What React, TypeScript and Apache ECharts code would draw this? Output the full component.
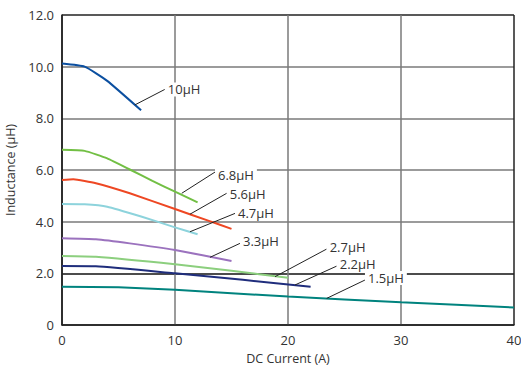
import React, { useEffect, useRef } from "react";
import * as echarts from "echarts";

// Inductance vs DC current curves (x = DC current in A, y = inductance in µH)
const x10 = [0, 2, 4, 7];
const y10 = [10.12, 10.0, 9.45, 8.31];
const x68 = [0, 2, 4, 6, 8, 10, 12];
const y68 = [6.78, 6.74, 6.45, 6.02, 5.58, 5.16, 4.75];
const x56 = [0, 1, 3, 6, 10, 13, 15];
const y56 = [5.61, 5.64, 5.49, 5.1, 4.49, 4.03, 3.72];
const x47 = [0, 2, 4, 7, 10, 12];
const y47 = [4.68, 4.67, 4.58, 4.2, 3.78, 3.51];
const x33 = [0, 3, 6, 10, 15];
const y33 = [3.36, 3.32, 3.16, 2.9, 2.48];
const x27 = [0, 3, 10, 15, 20];
const y27 = [2.67, 2.64, 2.35, 2.1, 1.83];
const x22 = [0, 3, 10, 16, 22];
const y22 = [2.28, 2.27, 2.0, 1.75, 1.48];
const x15 = [0, 5, 10, 20, 30, 40];
const y15 = [1.48, 1.46, 1.36, 1.1, 0.88, 0.68];

const seriesNames = ["10μH", "6.8μH", "5.6μH", "4.7μH", "3.3μH", "2.7μH", "2.2μH", "1.5μH"];
const seriesX = [x10, x68, x56, x47, x33, x27, x22, x15];
const seriesY = [y10, y68, y56, y47, y33, y27, y22, y15];
const seriesColors = ["#0b4fa0", "#72bf44", "#ee4723", "#8dd3dc", "#9b72be", "#8ccf7e", "#1f2d7c", "#00837e"];

// Leader lines for labels: start and end in data units
const leaderStartX = [6.45, 10.6, 11.33, 11.33, 13.1, 18.85, 20.62, 23.42];
const leaderStartY = [8.52, 5.1, 4.29, 3.61, 2.62, 1.87, 1.55, 1.03];
const leaderEndX = [9.1, 13.54, 14.58, 15.31, 15.75, 23.42, 24.31, 26.81];
const leaderEndY = [9.12, 5.92, 5.1, 4.32, 3.16, 2.94, 2.28, 1.74];
const labelOffsetY = [0, 3, 1, 0, -2, -2, -2, -2];

const yTicks = [0, 2, 4, 6, 8, 10, 12];
const xTicks = [0, 10, 20, 30, 40];

const FONT = "'Open Sans', 'DejaVu Sans', sans-serif";

export default function App() {
  const ref = useRef<HTMLDivElement>(null);
  useEffect(() => {
    if (!ref.current) return;
    const chart = echarts.init(ref.current, undefined, { renderer: "svg" });
    const curveSeries = seriesNames.map((name, i) => ({
      name,
      type: "line",
      data: seriesX[i].map((x, j) => [x, seriesY[i][j]]),
      smooth: 0.15,
      symbol: "none",
      lineStyle: { color: seriesColors[i], width: 2 },
      z: 3,
    }));
    const leaderSeries = seriesNames.map((name, i) => ({
      name: "leader-" + name,
      type: "line",
      data: [
        [leaderStartX[i], leaderStartY[i]],
        [leaderEndX[i], leaderEndY[i]],
      ],
      symbol: "none",
      lineStyle: { color: "#222", width: 1 },
      z: 4,
      endLabel: {
        show: true,
        formatter: name,
        distance: 0,
        offset: [0, labelOffsetY[i]],
        backgroundColor: "#fff",
        padding: [1, 3, 0, 3],
        lineHeight: 13,
        color: "#333",
        fontFamily: FONT,
        fontSize: 13,
      },
    }));
    chart.setOption({
      animation: false,
      grid: { left: 62, right: 7, top: 15, bottom: 42, containLabel: false, outerBoundsMode: "none" },
      xAxis: {
        type: "value",
        min: 0,
        max: 40,
        interval: 10,
        name: "DC Current (A)",
        nameLocation: "middle",
        nameGap: 27,
        nameTextStyle: { color: "#333", fontFamily: FONT, fontSize: 12.5 },
        axisLine: { lineStyle: { color: "#222", width: 1.5 } },
        axisTick: { show: false },
        axisLabel: {
          color: "#333",
          fontFamily: FONT,
          fontSize: 13,
          margin: 8,
          formatter: (v: number) => (xTicks.includes(v) ? String(v) : ""),
        },
        splitLine: {
          show: true,
          lineStyle: { color: ["#222", "#7a7a7a", "#7a7a7a", "#7a7a7a", "#222"], width: 1.5 },
        },
      },
      yAxis: {
        type: "value",
        min: 0,
        max: 12,
        interval: 2,
        name: "Inductance (μH)",
        nameLocation: "middle",
        nameRotate: 90,
        nameGap: 45,
        nameTextStyle: { color: "#333", fontFamily: FONT, fontSize: 12.5 },
        axisLine: { show: true, lineStyle: { color: "#222", width: 1.5 } },
        axisTick: { show: false },
        axisLabel: {
          color: "#333",
          fontFamily: FONT,
          fontSize: 13,
          margin: 8,
          formatter: (v: number) => (yTicks.includes(v) ? (v === 0 ? "0" : v.toFixed(1)) : ""),
        },
        splitLine: {
          show: true,
          lineStyle: {
            color: ["#222", "#111", "#7a7a7a", "#7a7a7a", "#7a7a7a", "#7a7a7a", "#222"],
            width: 1.5,
          },
        },
      },
      series: [...curveSeries, ...leaderSeries],
    });
    return () => chart.dispose();
  }, []);
  return (
    <div
      ref={ref}
      style={{ position: "fixed", left: 0, top: 0, width: 521, height: 367, background: "#fff" }}
    />
  );
}
